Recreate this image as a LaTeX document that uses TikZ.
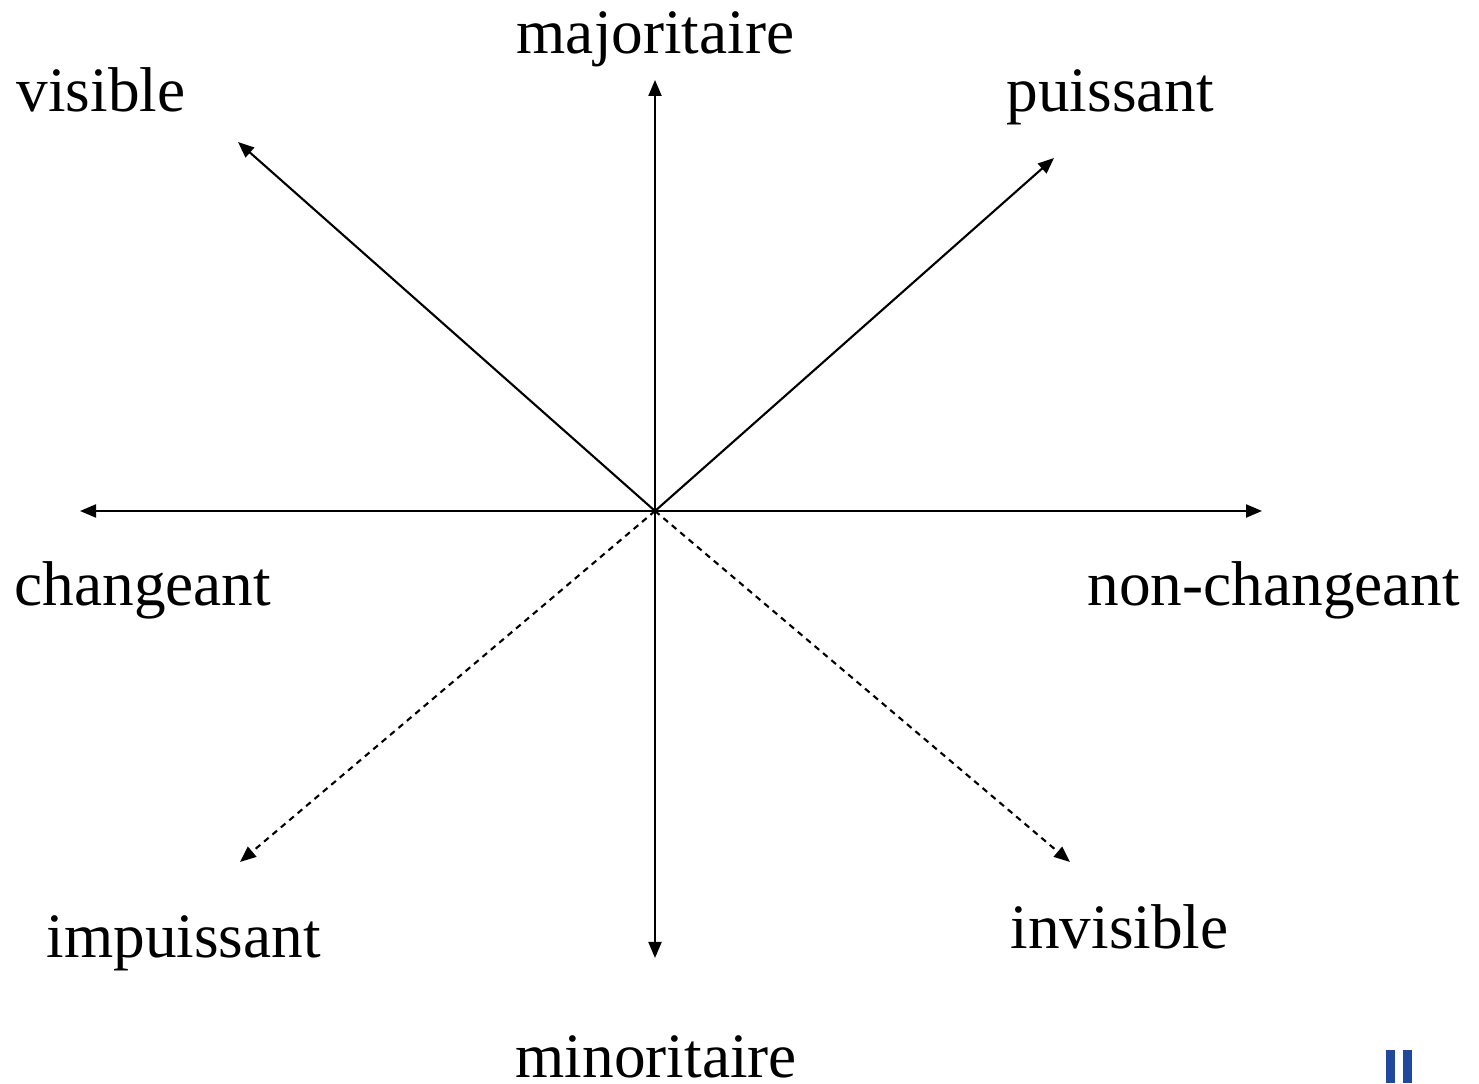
\documentclass[tikz,border=0pt]{standalone}
\usepackage{fontspec}
\setmainfont{Liberation Serif}
\usetikzlibrary{arrows.meta}
\definecolor{markblue}{RGB}{31,72,158}
\tikzset{
  axis/.style={line width=0.6pt, -{Triangle[length=0.16cm, width=0.13cm]}},
  faint/.style={axis, dash pattern=on 0.06cm off 0.05cm},
  lbl/.style={anchor=base west, inner sep=0pt, font=\fontsize{18}{20}\selectfont}
}
\begin{document}
\begin{tikzpicture}
    % Frame of the page (1 px = 0.01 cm, y up)
    \useasboundingbox (0,0) rectangle (14.79,10.83);

    % Centre and tips of the eight axes
    \coordinate (O) at (6.55,5.72);
    \coordinate (maj) at (6.55,10.03);
    \coordinate (min) at (6.55,1.25);
    \coordinate (chg) at (0.80,5.72);
    \coordinate (nchg) at (12.62,5.72);
    \coordinate (vis) at (2.38,9.41);
    \coordinate (pui) at (10.54,9.25);
    \coordinate (imp) at (2.40,2.21);
    \coordinate (inv) at (10.70,2.21);

    % Solid axes
    \draw[axis] (O) -- (maj);
    \draw[axis] (O) -- (min);
    \draw[axis] (O) -- (chg);
    \draw[axis] (O) -- (nchg);
    \draw[axis] (O) -- (vis);
    \draw[axis] (O) -- (pui);

    % Dashed axes (lower diagonals)
    \draw[faint] (O) -- (imp);
    \draw[faint] (O) -- (inv);

    % Labels
    \node[lbl] (majL) at (5.16,10.29) {majoritaire};
    \node[lbl] (minL) at (5.15,0.06) {minoritaire};
    \node[lbl] (visL) at (0.16,9.71) {visible};
    \node[lbl] (puiL) at (10.06,9.71) {puissant};
    \node[lbl] (chgL) at (0.14,4.77) {changeant};
    \node[lbl] (nchgL) at (10.87,4.77) {non-changeant};
    \node[lbl] (impL) at (0.46,1.26) {impuissant};
    \node[lbl] (invL) at (10.10,1.35) {invisible};

    % Blue marks, bottom right
    \fill[markblue] (13.86,0) rectangle (13.95,0.33);
    \fill[markblue] (14.03,0) rectangle (14.12,0.33);
\end{tikzpicture}
\end{document}
